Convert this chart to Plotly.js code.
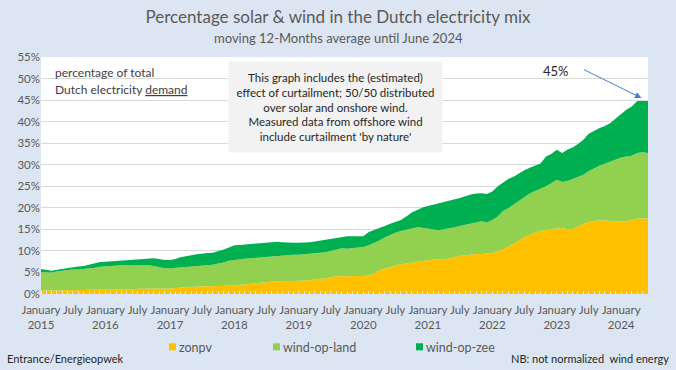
<!DOCTYPE html>
<html>
<head>
<meta charset="utf-8">
<script src="https://cdn.plot.ly/plotly-3.0.1.min.js"></script>
<style>
html,body{margin:0;padding:0;background:#DCE6F2;}
#chart{width:676px;height:370px;}
</style>
</head>
<body>
<div id="chart"></div>
<script>
// Monthly data, January 2015 - June 2024 (moving 12-month average, % of demand)
var startYear = 2015, startMonth = 1, monthCount = 114;

// solar (zonpv) share, %
var zonpv = [
  0.8,0.8,0.8,0.8,0.8,0.9,0.9,0.9,0.9,1.0,1.0,1.0,
  1.0,1.0,1.1,1.1,1.1,1.1,1.2,1.2,1.2,1.2,1.3,1.3,
  1.3,1.4,1.5,1.5,1.6,1.7,1.8,1.8,1.8,1.9,1.9,1.9,
  2.0,2.1,2.2,2.3,2.4,2.5,2.7,2.9,2.9,3.0,3.0,3.0,
  3.1,3.1,3.2,3.4,3.5,3.6,3.9,4.1,4.1,4.1,4.2,4.2,
  4.2,4.3,4.7,5.5,5.9,6.3,6.6,6.9,7.1,7.3,7.4,7.7,
  7.9,8.0,8.0,8.0,8.3,8.6,8.8,9.0,9.2,9.3,9.3,9.4,
  9.5,10.0,10.3,11.0,11.6,12.3,13.2,13.8,14.3,14.6,14.9,15.1,
  15.2,15.3,15.0,15.1,15.6,16.3,16.7,16.9,17.1,17.1,16.9,16.9,
  16.8,16.9,17.2,17.5,17.5,17.5
];
// cumulative top of onshore wind layer (solar + wind-op-land), %
var landTop = [
  5.1,5.0,5.0,5.2,5.4,5.6,5.7,5.7,5.8,5.9,6.1,6.3,
  6.4,6.5,6.6,6.7,6.6,6.6,6.6,6.7,6.7,6.5,6.2,6.0,
  6.0,6.1,6.2,6.3,6.4,6.5,6.6,6.7,6.8,7.1,7.3,7.7,
  7.9,8.1,8.2,8.3,8.4,8.5,8.6,8.8,8.9,9.0,9.1,9.1,
  9.1,9.2,9.3,9.4,9.5,9.7,10.0,10.3,10.6,10.5,10.6,10.8,
  10.9,11.3,11.8,12.4,13.1,13.7,14.2,14.6,14.9,15.2,15.5,15.4,
  15.2,15.0,14.8,15.0,15.2,15.5,15.8,16.1,16.4,16.7,16.9,16.6,
  17.2,18.0,19.2,19.9,20.7,21.5,22.4,23.3,23.9,24.4,25.0,25.7,
  26.5,26.0,26.2,26.7,27.2,27.7,28.5,29.2,29.8,30.2,30.7,31.3,
  31.7,31.9,32.1,32.7,32.9,32.7
];
// cumulative total (solar + onshore + offshore), %
var totalTop = [
  5.8,5.6,5.4,5.6,5.8,6.1,6.3,6.4,6.5,6.8,7.1,7.4,
  7.5,7.6,7.7,7.8,7.8,7.9,8.0,8.1,8.2,8.3,8.1,7.9,
  7.9,8.1,8.5,8.8,9.0,9.2,9.4,9.5,9.6,9.9,10.3,10.8,
  11.3,11.4,11.5,11.6,11.6,11.7,11.8,12.0,12.1,12.0,11.9,11.9,
  11.9,11.9,12.0,12.2,12.4,12.6,12.9,13.1,13.3,13.4,13.4,13.4,
  13.4,14.4,14.8,15.3,15.8,16.3,16.8,17.2,18.0,18.9,19.5,20.1,
  20.4,20.7,21.0,21.3,21.6,21.9,22.3,22.7,23.1,23.3,23.4,23.2,
  23.8,25.0,25.9,26.7,27.2,28.0,28.7,29.3,29.8,30.3,31.9,32.5,
  33.5,32.7,33.5,34.0,34.8,35.8,37.2,37.9,38.5,39.0,39.7,40.7,
  41.8,42.8,43.5,44.8,44.8,44.8
];

var seriesNames = ['zonpv','wind-op-land','wind-op-zee'];
var seriesColors = ['#FFC000','#92D050','#00B050'];
var tickYears = [2015,2016,2017,2018,2019,2020,2021,2022,2023,2024];

function pad(n){return (n<10?'0':'')+n;}
var dates = [];
for (var i=0;i<monthCount;i++){
  var m = startMonth-1+i;
  dates.push((startYear+Math.floor(m/12))+'-'+pad(m%12+1)+'-01');
}
var windLand = landTop.map(function(v,i){return +(v - zonpv[i]).toFixed(2);});
var windZee = totalTop.map(function(v,i){return +(v - landTop[i]).toFixed(2);});
var layers = [zonpv, windLand, windZee];

var tickvals = [], ticktext = [];
tickYears.forEach(function(y){
  tickvals.push(y+'-01-01'); ticktext.push('January<br>'+y);
  if (y < 2024){ tickvals.push(y+'-07-01'); ticktext.push('July'); }
});

var FONT = 'Lato, "Open Sans", sans-serif';
var TXT = '#595959';

// pixel -> paper helpers (plot area: x 41..648, y 57..294)
var PL=41, PR=648, PT=57, PB=294;
function px(x){return (x-PL)/(PR-PL);}
function py(y){return (PB-y)/(PB-PT);}

var traces = [];
layers.forEach(function(arr,k){
  traces.push({
    x: dates, y: arr, type:'scatter', mode:'lines', stackgroup:'one', name:seriesNames[k],
    line:{width:0, color:seriesColors[k]}, fillcolor:seriesColors[k],
    showlegend:false, hoverinfo:'skip'
  });
});

function note(text, x, y, xa, size, color, extra){
  var a = {text:text, xref:'paper', yref:'paper', x:px(x), y:py(y), xanchor:xa,
    yanchor:'middle', showarrow:false, font:{family:FONT, size:size, color:color}};
  if (extra) for (var k in extra) a[k]=extra[k];
  return a;
}

// legend: coloured squares + labels
var legendX = [169, 273, 416];
var shapes = [], legendNotes = [];
seriesNames.forEach(function(n,k){
  shapes.push({type:'rect', xref:'paper', yref:'paper',
    x0:px(legendX[k]), x1:px(legendX[k]+7), y0:py(350.3), y1:py(343.3),
    fillcolor:seriesColors[k], line:{width:0}});
  legendNotes.push(note(n, legendX[k]+9, 347, 'left', 12.5, TXT, {borderpad:0}));
});

var layout = {
  width:676, height:370,
  paper_bgcolor:'#DCE6F2', plot_bgcolor:'#FFFFFF',
  margin:{l:PL, r:676-PR, t:PT, b:370-PB, autoexpand:false},
  font:{family:FONT, color:TXT},
  showlegend:false,
  title:{text:'Percentage solar & wind in the Dutch electricity mix',
    font:{family:FONT, size:17, color:TXT}, x:0.5, xanchor:'center',
    xref:'container', yref:'container', y:(370-17)/370, yanchor:'middle'},
  xaxis:{type:'date', range:['2015-01-01','2024-06-01'],
    tickmode:'array', tickvals:tickvals, ticktext:ticktext,
    ticks:'outside', ticklen:5, tickcolor:'rgba(0,0,0,0)',
    showgrid:false, zeroline:false, showline:false,
    tickfont:{family:FONT, size:11.5, color:TXT}, tickangle:0,
    minor:{tickmode:'linear', tick0:'2015-01-01', dtick:'M1', ticks:'inside',
      ticklen:3, tickwidth:1, tickcolor:'#E8E8E8', showgrid:false}},
  yaxis:{range:[0,55], dtick:5, ticksuffix:'%', showgrid:true,
    gridcolor:'#D9D9D9', gridwidth:1, zeroline:false, showline:false,
    tickfont:{family:FONT, size:11.5, color:TXT}},
  shapes: shapes,
  annotations:[
    note('moving 12-Months average until June 2024', 338, 38, 'center', 13, TXT),
    note('percentage of total', 53, 73, 'left', 12, '#404040'),
    note('Dutch electricity <span style="text-decoration:underline">demand</span>', 53, 89, 'left', 12, '#404040'),
    note('This graph includes the (estimated)<br>effect of curtailment; 50/50 distributed<br>over solar and onshore wind.<br>Measured data from offshore wind<br>include curtailment \'by nature\'',
      335.5, 107, 'center', 11.5, '#262626', {align:'center', bgcolor:'#F2F2F2', borderpad:0, width:213, height:90}),
    note('45%', 556, 71, 'center', 13, '#262626'),
    {text:'', xref:'x', yref:'y', x:'2024-04-25', y:45.5, ax:-59, ay:-29,
      showarrow:true, arrowhead:2, arrowsize:1.3, arrowwidth:1, arrowcolor:'#4A7EC8'},
    note('Entrance/Energieopwek', 5, 358, 'left', 11, '#262626'),
    note('NB: not normalized  wind energy', 671, 358, 'right', 11, '#262626')
  ].concat(legendNotes)
};

Plotly.newPlot('chart', traces, layout, {displayModeBar:false, staticPlot:true});
</script>
</body>
</html>
